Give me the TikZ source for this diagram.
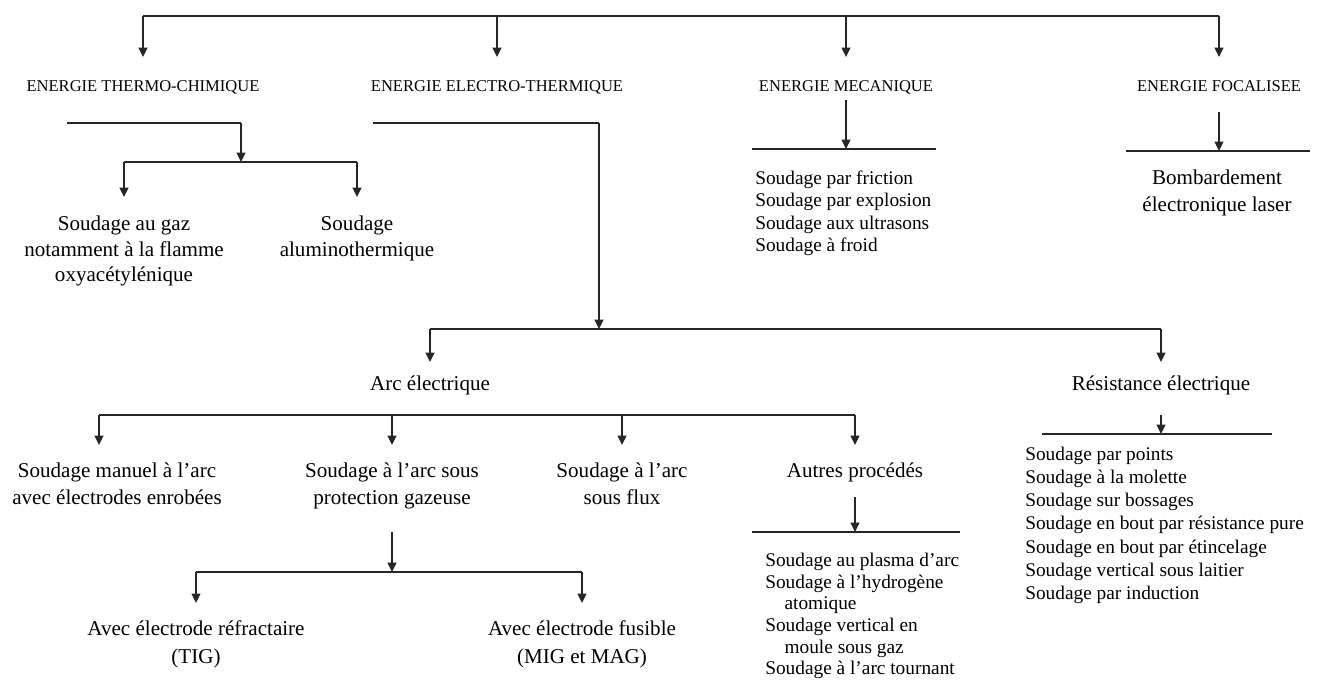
\documentclass[tikz,border=0pt]{standalone}
\usepackage{fontspec}
\setmainfont{Liberation Serif}
\usetikzlibrary{arrows.meta}
\begin{document}
\begin{tikzpicture}[x=0.75pt,y=-0.75pt,
  line/.style={line width=1.5pt, draw=black!85},
  arr/.style={line, -{Triangle[length=7pt,width=6.5pt]}},
  head/.style={font=\fontsize{12.4}{14}\selectfont, anchor=north, inner xsep=0pt, inner ysep=#1},
  ctext/.style={font=\fontsize{15.8}{19}\selectfont, align=center, anchor=north, inner xsep=0pt, inner ysep=#1},
  ltext/.style={font=\fontsize{14.5}{16.7}\selectfont, align=left, anchor=north west, inner sep=0pt},
]
\fill[white] (0,0) rectangle (1322,681);
\useasboundingbox (0,0) rectangle (1322,681);

% top level
\coordinate (T1) at (143,16);
\coordinate (T2) at (497,16);
\coordinate (T3) at (846,16);
\coordinate (T4) at (1219,16);
\node[head=17.6pt] (h1) at (143,57) {ENERGIE THERMO-CHIMIQUE};
\node[head=17.6pt] (h2) at (497,57) {ENERGIE ELECTRO-THERMIQUE};
\node[head=17.6pt] (h3) at (846,57) {ENERGIE MECANIQUE};
\node[head=17.6pt] (h4) at (1219,57) {ENERGIE FOCALISEE};
\draw[line] (T1) -- (T4);
\draw[arr] (T1) -- (h1);
\draw[arr] (T2) -- (h2);
\draw[arr] (T3) -- (h3);
\draw[arr] (T4) -- (h4);

% thermo-chimique
\coordinate (A1) at (67,123);
\coordinate (A2) at (241,123);
\coordinate (A3) at (241,162);
\coordinate (A4) at (124,162);
\coordinate (A5) at (357,162);
\node[ctext=14.25pt] (s1) at (124,197) {Soudage au gaz\\notamment à la flamme\\oxyacétylénique};
\node[ctext=14.25pt] (s2) at (357,197) {Soudage\\aluminothermique};
\draw[line] (A1) -- (A2);
\draw[arr] (A2) -- (A3);
\draw[line] (A4) -- (A5);
\draw[arr] (A4) -- (s1);
\draw[arr] (A5) -- (s2);

% electro-thermique
\coordinate (B1) at (373,123);
\coordinate (B2) at (599,123);
\coordinate (B3) at (599,329);
\coordinate (B4) at (430,329);
\coordinate (B5) at (1161,329);
\node[ctext=10.5pt] (a1) at (430,362) {Arc électrique};
\node[ctext=10.5pt] (r1) at (1161,362) {Résistance électrique};
\draw[line] (B1) -- (B2);
\draw[arr] (B2) -- (B3);
\draw[line] (B4) -- (B5);
\draw[arr] (B4) -- (a1);
\draw[arr] (B5) -- (r1);

% arc electrique
\coordinate (C1) at (99,415);
\coordinate (C2) at (392,415);
\coordinate (C3) at (622,415);
\coordinate (C4) at (855,415);
\node[ctext=13.5pt, font=\fontsize{15.8}{20}\selectfont] (m1) at (117,445) {Soudage manuel à l’arc\\avec électrodes enrobées};
\node[ctext=13.5pt, font=\fontsize{15.8}{20}\selectfont] (m2) at (392,445) {Soudage à l’arc sous\\protection gazeuse};
\node[ctext=13.5pt, font=\fontsize{15.8}{20}\selectfont] (m3) at (622,445) {Soudage à l’arc\\sous flux};
\node[ctext=13.5pt] (m4) at (855,445) {Autres procédés};
\draw[line] (C1) -- (C4);
\draw[arr] (C1) -- (C1 |- m1.north);
\draw[arr] (C2) -- (m2);
\draw[arr] (C3) -- (m3);
\draw[arr] (C4) -- (m4);

% protection gazeuse
\coordinate (D1) at (392,532);
\coordinate (D2) at (392,572);
\coordinate (D3) at (196,572);
\coordinate (D4) at (582,572);
\node[ctext=12.75pt, font=\fontsize{15.8}{21}\selectfont] (p1) at (196,603) {Avec électrode réfractaire\\(TIG)};
\node[ctext=12.75pt, font=\fontsize{15.8}{21}\selectfont] (p2) at (582,603) {Avec électrode fusible\\(MIG et MAG)};
\draw[arr] (D1) -- (D2);
\draw[line] (D3) -- (D4);
\draw[arr] (D3) -- (p1);
\draw[arr] (D4) -- (p2);

% autres procedes
\coordinate (E1) at (855,497);
\coordinate (E2) at (855,532);
\coordinate (E3) at (752,532);
\coordinate (E4) at (960,532);
\draw[arr] (E1) -- (E2);
\draw[line] (E3) -- (E4);
\node[ltext, font=\fontsize{14.5}{16.2}\selectfont] (l1) at (765,553) {Soudage au plasma d’arc\\Soudage à l’hydrogène\\\hspace*{1em}atomique\\Soudage vertical en\\\hspace*{1em}moule sous gaz\\Soudage à l’arc tournant};

% resistance electrique
\coordinate (F1) at (1161,415);
\coordinate (F2) at (1161,434);
\coordinate (F3) at (1042,434);
\coordinate (F4) at (1272,434);
\draw[arr] (F1) -- (F2);
\draw[line] (F3) -- (F4);
\node[ltext, font=\fontsize{14.5}{17.4}\selectfont] (l2) at (1025,446.6) {Soudage par points\\Soudage à la molette\\Soudage sur bossages\\Soudage en bout par résistance pure\\Soudage en bout par étincelage\\Soudage vertical sous laitier\\Soudage par induction};

% mecanique
\coordinate (G1) at (846,100);
\coordinate (G2) at (846,149);
\coordinate (G3) at (752,149);
\coordinate (G4) at (936,149);
\draw[arr] (G1) -- (G2);
\draw[line] (G3) -- (G4);
\node[ltext] (l3) at (755,170.6) {Soudage par friction\\Soudage par explosion\\Soudage aux ultrasons\\Soudage à froid};

% focalisee
\coordinate (H1) at (1219,112);
\coordinate (H2) at (1219,151);
\coordinate (H3) at (1126,151);
\coordinate (H4) at (1310,151);
\draw[arr] (H1) -- (H2);
\draw[line] (H3) -- (H4);
\node[ctext=0pt, font=\fontsize{15.8}{20}\selectfont] (f1) at (1217,170) {Bombardement\\électronique laser};
\end{tikzpicture}
\end{document}
